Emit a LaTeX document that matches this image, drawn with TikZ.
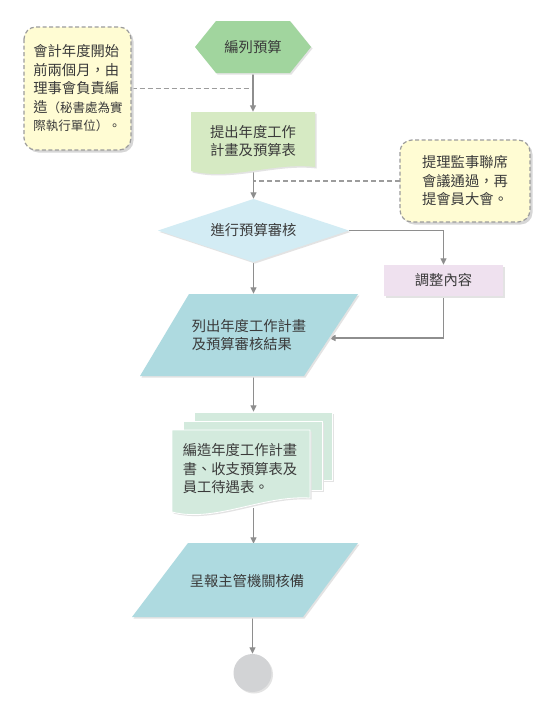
\documentclass[tikz,border=0pt]{standalone}
\usepackage{fontspec}
\setmainfont{Noto Sans CJK TC}
\usetikzlibrary{arrows.meta}
\definecolor{linegray}{HTML}{8E8E8E}
\definecolor{dashgray}{HTML}{9C9C9C}
\definecolor{notefill}{HTML}{FFFCD3}
\definecolor{hexgreen}{HTML}{A1D59E}
\definecolor{docgreen}{HTML}{D6EAC3}
\definecolor{diablue}{HTML}{D3ECF4}
\definecolor{adjpurple}{HTML}{EFE1EF}
\definecolor{parablue}{HTML}{AEDAE0}
\definecolor{stackmint}{HTML}{D3EADD}
\definecolor{endgray}{HTML}{D2D3D5}
\definecolor{txt}{HTML}{3A3A3A}
\pgfdeclarelayer{paper}
\pgfdeclarelayer{conn}
\pgfsetlayers{paper,conn,main}
\tikzset{
  lbl/.style={inner sep=0pt, text=txt, font=\fontsize{14.3}{18.5}\selectfont},
  flow/.style={draw=linegray, line width=1.1pt, -{Triangle[width=6pt,length=6.5pt]}},
  dashline/.style={draw=dashgray, line width=1.4pt, dash pattern=on 5pt off 3pt},
  shade/.style={fill=black!11},
  noteshade/.style={fill=black!16, rounded corners=12pt},
  notebox/.style={draw=dashgray, line width=1.2pt, dash pattern=on 4pt off 2.5pt, fill=notefill, rounded corners=12pt},
  sheet/.style={fill=stackmint, draw=white, line width=0.8pt}
}
\begin{document}
\begin{tikzpicture}[x=1pt,y=-1pt]
\useasboundingbox (0,0) rectangle (545,710);
\begin{pgfonlayer}{paper}
\fill[white] (0,0) rectangle (545,710);
\end{pgfonlayer}

% ---------- shapes ----------
% left note
\fill[noteshade] (26.5,29.5) rectangle (133.5,152.5);
\draw[notebox] (24,27) rectangle (131,150);
% right note
\fill[noteshade] (402.5,142.5) rectangle (532.5,224.5);
\draw[notebox] (400,140) rectangle (530,222);
% hexagon
\fill[shade] (196.5,48.5) -- (217.5,22.5) -- (291.5,22.5) -- (312.5,48.5) -- (291.5,74.5) -- (217.5,74.5) -- cycle;
\fill[hexgreen] (195,47) -- (216,21) -- (290,21) -- (311,47) -- (290,73) -- (216,73) -- cycle;
% document 1
\fill[shade] (192.5,113.5) -- (316.5,113.5) -- (316.5,168.5) .. controls (276.5,163.5) and (231.5,182.5) .. (192.5,172.5) -- cycle;
\fill[docgreen] (191,112) -- (315,112) -- (315,167) .. controls (275,162) and (230,181) .. (191,171) -- cycle;
% diamond
\fill[shade] (159.5,232) -- (255,200.5) -- (350.5,232) -- (255,263.5) -- cycle;
\fill[diablue] (158,230.5) -- (253.5,199) -- (349,230.5) -- (253.5,262) -- cycle;
% adjust box
\fill[shade] (385.5,266.5) rectangle (504.5,297.5);
\fill[adjpurple] (384,265) rectangle (503,296);
% parallelogram 1
\fill[shade] (190.5,295.5) -- (359.5,295.5) -- (305.5,377.5) -- (141.5,377.5) -- cycle;
\fill[parablue] (189,294) -- (358,294) -- (304,376) -- (140,376) -- cycle;
% stack
\fill[shade] (195.5,413.5) rectangle (333.5,481.5);
\fill[sheet] (194,412) rectangle (332,480);
\fill[shade] (184.5,422.5) rectangle (323.5,491.5);
\filldraw[sheet] (183,421) rectangle (322,490);
\fill[shade] (173.5,431.5) -- (311.5,431.5) -- (311.5,499.5) .. controls (263.5,496.5) and (216.5,524.5) .. (173.5,513.5) -- cycle;
\filldraw[sheet] (172,430) -- (310,430) -- (310,498) .. controls (262,495) and (215,523) .. (172,512) -- cycle;
% parallelogram 2
\fill[shade] (189.5,544.5) -- (359.5,544.5) -- (304.5,618.5) -- (133.5,618.5) -- cycle;
\fill[parablue] (188,543) -- (358,543) -- (303,617) -- (132,617) -- cycle;
% end circle
\fill[shade] (254,674.5) circle (19);
\fill[endgray] (252.5,673) circle (19);

% ---------- nodes ----------
\node[lbl, minimum width=107, minimum height=123, align=left] (noteL) at (78,88.5)
  {會計年度開始\\前兩個月，由\\理事會負責編\\造{\fontsize{12.5}{18.5}\selectfont（秘書處為實}\\{\fontsize{12.5}{18.5}\selectfont 際執行單位）。}};
\node[lbl, minimum width=130, minimum height=82, align=left] (noteR) at (465,181)
  {提理監事聯席\\會議通過，再\\提會員大會。};
\node[lbl, minimum width=116, minimum height=52] (hex) at (253,47) {編列預算};
\node[lbl, minimum width=124, minimum height=58, align=center] (doc1) at (253,141)
  {提出年度工作\\計畫及預算表};
\node[lbl, minimum width=191, minimum height=63] (dia) at (253.5,230.5) {進行預算審核};
\node[lbl, minimum width=119, minimum height=31] (adj) at (443.5,280.5) {調整內容};
\node[lbl, minimum width=218, minimum height=82, align=left] (p1) at (249,335)
  {列出年度工作計畫\\及預算審核結果};
\coordinate (p1in) at (329,338);
\node[inner sep=0pt, minimum width=138, minimum height=68] (sheet3) at (263,446) {};
\node[lbl, minimum width=138, minimum height=78, align=left] (stack) at (240,469)
  {編造年度工作計畫\\書、收支預算表及\\員工待遇表。};
\node[lbl, minimum width=226, minimum height=74] (p2) at (247,581) {呈報主管機關核備};
\node[circle, inner sep=0pt, minimum size=38] (endc) at (252.5,673) {};

% ---------- connectors ----------
\begin{pgfonlayer}{conn}
\draw[dashline] (noteL.east) -- (noteL.east -| hex.south);
\draw[dashline] (noteR.west) -- (noteR.west -| dia.north);
\draw[flow] (hex.south) -- (doc1.north);
\draw[flow] (doc1.south -| dia.north) -- (dia.north);
\draw[flow] (dia.east) -| (adj.north);
\draw[flow] (adj.south) |- (p1in);
\draw[flow] (dia.south) -- (dia.south |- p1.north);
\draw[flow] (p1.south -| dia.south) -- (sheet3.north -| dia.south);
\draw[flow] (stack.south -| dia.south) -- (p2.north -| dia.south);
\draw[flow] (p2.south -| endc.north) -- (endc.north);
\end{pgfonlayer}
\end{tikzpicture}
\end{document}
